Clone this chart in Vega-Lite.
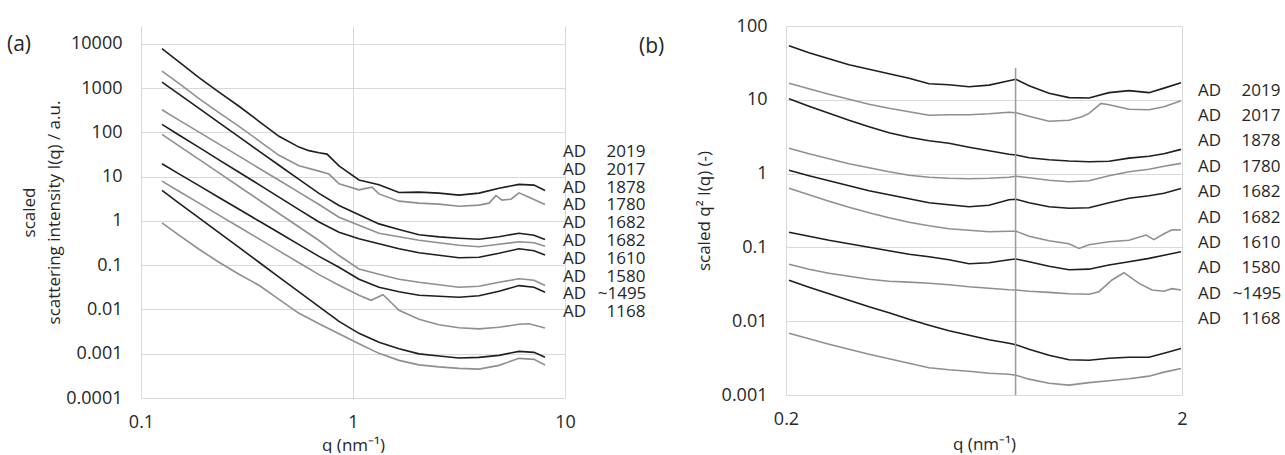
{
"$schema": "https://vega.github.io/schema/vega-lite/v6.json",
"background": "white",
"padding": {"left": 7, "top": 17, "right": 0, "bottom": 0},
"config": {
  "view": {"stroke": null},
  "font": "Open Sans",
  "axis": {"grid": true, "gridColor": "#d9d9d9", "gridWidth": 1, "domain": false, "ticks": false, "tickSize": 0, "labelFlush": false,
    "labelFont": "Open Sans", "labelFontSize": 18, "labelColor": "#262626",
    "titleFont": "Open Sans", "titleFontSize": 17, "titleFontWeight": "normal", "titleColor": "#262626"},
  "legend": {"labelFont": "Open Sans", "labelFontSize": 17, "labelColor": "#262626"}
},
"datasets": {
"a": [
{"s":"2019","q":0.1256,"I":7830},{"s":"2019","q":0.151,"I":3950},{"s":"2019","q":0.1878,"I":1746},{"s":"2019","q":0.2332,"I":820},{"s":"2019","q":0.29,"I":392},{"s":"2019","q":0.3602,"I":179},{"s":"2019","q":0.4476,"I":82},{"s":"2019","q":0.5563,"I":46.7},{"s":"2019","q":0.6199,"I":38.9},{"s":"2019","q":0.6913,"I":34.9},{"s":"2019","q":0.7541,"I":32.5},{"s":"2019","q":0.859,"I":17.6},{"s":"2019","q":1.067,"I":8.47},{"s":"2019","q":1.326,"I":6.56},{"s":"2019","q":1.648,"I":4.41},{"s":"2019","q":2.048,"I":4.48},{"s":"2019","q":2.545,"I":4.26},{"s":"2019","q":3.162,"I":3.84},{"s":"2019","q":3.929,"I":4.26},{"s":"2019","q":4.884,"I":5.52},{"s":"2019","q":6.067,"I":6.73},{"s":"2019","q":7.142,"I":6.46},{"s":"2019","q":8.05,"I":4.9},
{"s":"2017","q":0.1256,"I":2449},{"s":"2017","q":0.151,"I":1291},{"s":"2017","q":0.1878,"I":585},{"s":"2017","q":0.2332,"I":282},{"s":"2017","q":0.29,"I":138},{"s":"2017","q":0.3602,"I":64.9},{"s":"2017","q":0.4476,"I":30.5},{"s":"2017","q":0.5563,"I":17.8},{"s":"2017","q":0.6913,"I":13.4},{"s":"2017","q":0.77,"I":11.5},{"s":"2017","q":0.859,"I":6.91},{"s":"2017","q":1.067,"I":5.05},{"s":"2017","q":1.229,"I":5.82},{"s":"2017","q":1.326,"I":4.1},{"s":"2017","q":1.648,"I":2.81},{"s":"2017","q":2.048,"I":2.53},{"s":"2017","q":2.545,"I":2.4},{"s":"2017","q":3.162,"I":2.16},{"s":"2017","q":3.929,"I":2.28},{"s":"2017","q":4.38,"I":2.53},{"s":"2017","q":4.725,"I":3.74},{"s":"2017","q":5.045,"I":2.96},{"s":"2017","q":5.563,"I":3.11},{"s":"2017","q":6.067,"I":4.32},{"s":"2017","q":6.765,"I":3.45},{"s":"2017","q":8.05,"I":2.36},
{"s":"1878","q":0.1256,"I":1381},{"s":"1878","q":0.151,"I":739},{"s":"1878","q":0.1878,"I":351},{"s":"1878","q":0.2332,"I":167.5},{"s":"1878","q":0.29,"I":79.9},{"s":"1878","q":0.3602,"I":38.1},{"s":"1878","q":0.4476,"I":18.2},{"s":"1878","q":0.5563,"I":8.69},{"s":"1878","q":0.6913,"I":4.21},{"s":"1878","q":0.859,"I":2.24},{"s":"1878","q":1.067,"I":1.388},{"s":"1878","q":1.326,"I":0.86},{"s":"1878","q":1.648,"I":0.642},{"s":"1878","q":2.048,"I":0.49},{"s":"1878","q":2.545,"I":0.437},{"s":"1878","q":3.162,"I":0.408},{"s":"1878","q":3.929,"I":0.388},{"s":"1878","q":4.884,"I":0.441},{"s":"1878","q":6.067,"I":0.53},{"s":"1878","q":7.142,"I":0.477},{"s":"1878","q":8.05,"I":0.381},
{"s":"1780","q":0.1256,"I":326},{"s":"1780","q":0.151,"I":190.7},{"s":"1780","q":0.1878,"I":102.1},{"s":"1780","q":0.2332,"I":54.6},{"s":"1780","q":0.29,"I":29.2},{"s":"1780","q":0.3602,"I":15.57},{"s":"1780","q":0.4476,"I":8.33},{"s":"1780","q":0.5563,"I":4.44},{"s":"1780","q":0.6913,"I":2.36},{"s":"1780","q":0.859,"I":1.219},{"s":"1780","q":1.067,"I":0.803},{"s":"1780","q":1.326,"I":0.53},{"s":"1780","q":1.648,"I":0.441},{"s":"1780","q":2.048,"I":0.368},{"s":"1780","q":2.545,"I":0.323},{"s":"1780","q":3.162,"I":0.2835},{"s":"1780","q":3.929,"I":0.262},{"s":"1780","q":4.884,"I":0.2986},{"s":"1780","q":6.067,"I":0.34},{"s":"1780","q":7.142,"I":0.323},{"s":"1780","q":8.05,"I":0.269},
{"s":"1682a","q":0.1256,"I":152.5},{"s":"1682a","q":0.151,"I":87.8},{"s":"1682a","q":0.1878,"I":46},{"s":"1682a","q":0.2332,"I":24.1},{"s":"1682a","q":0.29,"I":12.64},{"s":"1682a","q":0.3602,"I":6.63},{"s":"1682a","q":0.4476,"I":3.455},{"s":"1682a","q":0.5563,"I":1.811},{"s":"1682a","q":0.6913,"I":0.949},{"s":"1682a","q":0.859,"I":0.558},{"s":"1682a","q":1.067,"I":0.398},{"s":"1682a","q":1.326,"I":0.3065},{"s":"1682a","q":1.648,"I":0.236},{"s":"1682a","q":2.048,"I":0.1918},{"s":"1682a","q":2.545,"I":0.1684},{"s":"1682a","q":3.162,"I":0.1478},{"s":"1682a","q":3.929,"I":0.1517},{"s":"1682a","q":4.884,"I":0.1868},{"s":"1682a","q":6.067,"I":0.236},{"s":"1682a","q":7.142,"I":0.2129},{"s":"1682a","q":8.05,"I":0.171},
{"s":"1682b","q":0.1256,"I":90.6},{"s":"1682b","q":0.151,"I":49.8},{"s":"1682b","q":0.1878,"I":24.6},{"s":"1682b","q":0.2332,"I":12.19},{"s":"1682b","q":0.29,"I":6.03},{"s":"1682b","q":0.3602,"I":2.987},{"s":"1682b","q":0.4476,"I":1.478},{"s":"1682b","q":0.5563,"I":0.732},{"s":"1682b","q":0.6913,"I":0.362},{"s":"1682b","q":0.859,"I":0.1658},{"s":"1682b","q":1.067,"I":0.0825},{"s":"1682b","q":1.326,"I":0.0626},{"s":"1682b","q":1.648,"I":0.0482},{"s":"1682b","q":2.048,"I":0.0412},{"s":"1682b","q":2.545,"I":0.0362},{"s":"1682b","q":3.162,"I":0.0318},{"s":"1682b","q":3.929,"I":0.0335},{"s":"1682b","q":4.884,"I":0.0412},{"s":"1682b","q":6.067,"I":0.0495},{"s":"1682b","q":7.142,"I":0.0458},{"s":"1682b","q":8.05,"I":0.0347},
{"s":"1610","q":0.1256,"I":19.6},{"s":"1610","q":0.151,"I":11.63},{"s":"1610","q":0.1878,"I":6.29},{"s":"1610","q":0.2332,"I":3.4},{"s":"1610","q":0.29,"I":1.839},{"s":"1610","q":0.3602,"I":1},{"s":"1610","q":0.4476,"I":0.541},{"s":"1610","q":0.5563,"I":0.2924},{"s":"1610","q":0.6913,"I":0.159},{"s":"1610","q":0.859,"I":0.0901},{"s":"1610","q":1.067,"I":0.0482},{"s":"1610","q":1.326,"I":0.0318},{"s":"1610","q":1.648,"I":0.02515},{"s":"1610","q":2.048,"I":0.02097},{"s":"1610","q":2.545,"I":0.01989},{"s":"1610","q":3.162,"I":0.01888},{"s":"1610","q":3.929,"I":0.02042},{"s":"1610","q":4.884,"I":0.0258},{"s":"1610","q":6.067,"I":0.0347},{"s":"1610","q":7.142,"I":0.0318},{"s":"1610","q":8.05,"I":0.0245},
{"s":"1580","q":0.1256,"I":7.95},{"s":"1580","q":0.151,"I":4.7},{"s":"1580","q":0.1878,"I":2.527},{"s":"1580","q":0.2332,"I":1.36},{"s":"1580","q":0.29,"I":0.732},{"s":"1580","q":0.3602,"I":0.3936},{"s":"1580","q":0.4476,"I":0.2117},{"s":"1580","q":0.5563,"I":0.1139},{"s":"1580","q":0.6913,"I":0.0613},{"s":"1580","q":0.859,"I":0.0353},{"s":"1580","q":1.067,"I":0.02097},{"s":"1580","q":1.216,"I":0.01615},{"s":"1580","q":1.385,"I":0.0215},{"s":"1580","q":1.561,"I":0.01245},{"s":"1580","q":1.648,"I":0.00959},{"s":"1580","q":2.048,"I":0.006},{"s":"1580","q":2.545,"I":0.00451},{"s":"1580","q":3.162,"I":0.003855},{"s":"1580","q":3.929,"I":0.003658},{"s":"1580","q":4.884,"I":0.003957},{"s":"1580","q":6.067,"I":0.004626},{"s":"1580","q":6.765,"I":0.004746},{"s":"1580","q":8.05,"I":0.003814},
{"s":"~1495","q":0.1256,"I":4.9},{"s":"~1495","q":0.151,"I":2.541},{"s":"~1495","q":0.1878,"I":1.181},{"s":"~1495","q":0.2332,"I":0.5464},{"s":"~1495","q":0.29,"I":0.2528},{"s":"~1495","q":0.3602,"I":0.1169},{"s":"~1495","q":0.4476,"I":0.0541},{"s":"~1495","q":0.5563,"I":0.02515},{"s":"~1495","q":0.6913,"I":0.01163},{"s":"~1495","q":0.859,"I":0.0054},{"s":"~1495","q":1.067,"I":0.002893},{"s":"~1495","q":1.326,"I":0.001811},{"s":"~1495","q":1.648,"I":0.001297},{"s":"~1495","q":2.048,"I":0.000995},{"s":"~1495","q":2.545,"I":0.000887},{"s":"~1495","q":3.162,"I":0.000799},{"s":"~1495","q":3.929,"I":0.000829},{"s":"~1495","q":4.884,"I":0.00092},{"s":"~1495","q":6.067,"I":0.001133},{"s":"~1495","q":7.142,"I":0.001076},{"s":"~1495","q":8.05,"I":0.000829},
{"s":"1168","q":0.1256,"I":0.906},{"s":"1168","q":0.151,"I":0.477},{"s":"1168","q":0.1878,"I":0.23},{"s":"1168","q":0.2332,"I":0.1169},{"s":"1168","q":0.29,"I":0.0626},{"s":"1168","q":0.3602,"I":0.0353},{"s":"1168","q":0.4476,"I":0.017},{"s":"1168","q":0.5563,"I":0.0082},{"s":"1168","q":0.6913,"I":0.004746},{"s":"1168","q":0.859,"I":0.002819},{"s":"1168","q":1.067,"I":0.001675},{"s":"1168","q":1.326,"I":0.001021},{"s":"1168","q":1.648,"I":0.000709},{"s":"1168","q":2.048,"I":0.000561},{"s":"1168","q":2.545,"I":0.000505},{"s":"1168","q":3.162,"I":0.000467},{"s":"1168","q":3.929,"I":0.00045},{"s":"1168","q":4.884,"I":0.000546},{"s":"1168","q":6.067,"I":0.000787},{"s":"1168","q":7.142,"I":0.000747},{"s":"1168","q":8.05,"I":0.000555}
],
"b": [
{"s":"2019","q":0.2035,"v":54.1},{"s":"2019","q":0.2286,"v":43.5},{"s":"2019","q":0.2568,"v":36.1},{"s":"2019","q":0.2885,"v":29.9},{"s":"2019","q":0.3241,"v":26},{"s":"2019","q":0.364,"v":22.6},{"s":"2019","q":0.409,"v":19.6},{"s":"2019","q":0.4594,"v":16.5},{"s":"2019","q":0.516,"v":16},{"s":"2019","q":0.5797,"v":15.05},{"s":"2019","q":0.6511,"v":15.8},{"s":"2019","q":0.7313,"v":18.1},{"s":"2019","q":0.7617,"v":19},{"s":"2019","q":0.8217,"v":15.5},{"s":"2019","q":0.923,"v":12.3},{"s":"2019","q":1.0368,"v":10.7},{"s":"2019","q":1.1646,"v":10.6},{"s":"2019","q":1.3082,"v":12.5},{"s":"2019","q":1.4695,"v":13.3},{"s":"2019","q":1.6508,"v":12.5},{"s":"2019","q":1.8012,"v":14.4},{"s":"2019","q":1.9884,"v":17},
{"s":"2017","q":0.2035,"v":16.8},{"s":"2017","q":0.2286,"v":14.1},{"s":"2017","q":0.2568,"v":11.9},{"s":"2017","q":0.2885,"v":10.2},{"s":"2017","q":0.3241,"v":8.72},{"s":"2017","q":0.364,"v":7.69},{"s":"2017","q":0.409,"v":6.9},{"s":"2017","q":0.4594,"v":6.18},{"s":"2017","q":0.516,"v":6.28},{"s":"2017","q":0.5797,"v":6.28},{"s":"2017","q":0.6511,"v":6.48},{"s":"2017","q":0.7313,"v":6.79},{"s":"2017","q":0.7617,"v":6.69},{"s":"2017","q":0.8217,"v":6},{"s":"2017","q":0.923,"v":5.13},{"s":"2017","q":1.0368,"v":5.29},{"s":"2017","q":1.118,"v":5.9},{"s":"2017","q":1.1646,"v":6.54},{"s":"2017","q":1.249,"v":8.94},{"s":"2017","q":1.3082,"v":8.58},{"s":"2017","q":1.4695,"v":7.46},{"s":"2017","q":1.6508,"v":7.34},{"s":"2017","q":1.8012,"v":8.06},{"s":"2017","q":1.9884,"v":9.72},
{"s":"1878","q":0.2035,"v":10.35},{"s":"1878","q":0.2286,"v":8.19},{"s":"1878","q":0.2568,"v":6.58},{"s":"1878","q":0.2885,"v":5.29},{"s":"1878","q":0.3241,"v":4.32},{"s":"1878","q":0.364,"v":3.58},{"s":"1878","q":0.409,"v":3.11},{"s":"1878","q":0.4594,"v":2.79},{"s":"1878","q":0.516,"v":2.58},{"s":"1878","q":0.5797,"v":2.28},{"s":"1878","q":0.6511,"v":2.04},{"s":"1878","q":0.7313,"v":1.83},{"s":"1878","q":0.7617,"v":1.79},{"s":"1878","q":0.8217,"v":1.64},{"s":"1878","q":0.923,"v":1.54},{"s":"1878","q":1.0368,"v":1.48},{"s":"1878","q":1.1646,"v":1.45},{"s":"1878","q":1.3082,"v":1.47},{"s":"1878","q":1.4695,"v":1.62},{"s":"1878","q":1.6508,"v":1.72},{"s":"1878","q":1.8012,"v":1.86},{"s":"1878","q":1.9884,"v":2.13},
{"s":"1780","q":0.2035,"v":2.21},{"s":"1780","q":0.2286,"v":1.86},{"s":"1780","q":0.2568,"v":1.59},{"s":"1780","q":0.2885,"v":1.36},{"s":"1780","q":0.3241,"v":1.2},{"s":"1780","q":0.364,"v":1.06},{"s":"1780","q":0.409,"v":0.951},{"s":"1780","q":0.4594,"v":0.894},{"s":"1780","q":0.516,"v":0.866},{"s":"1780","q":0.5797,"v":0.853},{"s":"1780","q":0.6511,"v":0.866},{"s":"1780","q":0.7313,"v":0.894},{"s":"1780","q":0.7617,"v":0.922},{"s":"1780","q":0.8217,"v":0.88},{"s":"1780","q":0.923,"v":0.814},{"s":"1780","q":1.0368,"v":0.777},{"s":"1780","q":1.1646,"v":0.801},{"s":"1780","q":1.3082,"v":0.937},{"s":"1780","q":1.4695,"v":1.06},{"s":"1780","q":1.6508,"v":1.147},{"s":"1780","q":1.8012,"v":1.26},{"s":"1780","q":1.9884,"v":1.375},
{"s":"1682a","q":0.2035,"v":1.11},{"s":"1682a","q":0.2286,"v":0.937},{"s":"1682a","q":0.2568,"v":0.801},{"s":"1682a","q":0.2885,"v":0.686},{"s":"1682a","q":0.3241,"v":0.586},{"s":"1682a","q":0.364,"v":0.518},{"s":"1682a","q":0.409,"v":0.457},{"s":"1682a","q":0.4594,"v":0.403},{"s":"1682a","q":0.516,"v":0.379},{"s":"1682a","q":0.5797,"v":0.356},{"s":"1682a","q":0.6511,"v":0.373},{"s":"1682a","q":0.7313,"v":0.443},{"s":"1682a","q":0.7617,"v":0.45},{"s":"1682a","q":0.8217,"v":0.403},{"s":"1682a","q":0.923,"v":0.356},{"s":"1682a","q":1.0368,"v":0.34},{"s":"1682a","q":1.1646,"v":0.345},{"s":"1682a","q":1.3082,"v":0.403},{"s":"1682a","q":1.4695,"v":0.464},{"s":"1682a","q":1.6508,"v":0.502},{"s":"1682a","q":1.8012,"v":0.543},{"s":"1682a","q":1.9884,"v":0.63},
{"s":"1682b","q":0.2035,"v":0.634},{"s":"1682b","q":0.2286,"v":0.518},{"s":"1682b","q":0.2568,"v":0.423},{"s":"1682b","q":0.2885,"v":0.35},{"s":"1682b","q":0.3241,"v":0.295},{"s":"1682b","q":0.364,"v":0.2527},{"s":"1682b","q":0.409,"v":0.2196},{"s":"1682b","q":0.4594,"v":0.1968},{"s":"1682b","q":0.516,"v":0.1792},{"s":"1682b","q":0.5797,"v":0.171},{"s":"1682b","q":0.6511,"v":0.1632},{"s":"1682b","q":0.7313,"v":0.1658},{"s":"1682b","q":0.7617,"v":0.1658},{"s":"1682b","q":0.8217,"v":0.1418},{"s":"1682b","q":0.923,"v":0.1232},{"s":"1682b","q":1.0368,"v":0.1122},{"s":"1682b","q":1.099,"v":0.0969},{"s":"1682b","q":1.1646,"v":0.1088},{"s":"1682b","q":1.3082,"v":0.1195},{"s":"1682b","q":1.4695,"v":0.1252},{"s":"1682b","q":1.622,"v":0.1472},{"s":"1682b","q":1.699,"v":0.1272},{"s":"1682b","q":1.8012,"v":0.1533},{"s":"1682b","q":1.887,"v":0.1738},{"s":"1682b","q":1.9884,"v":0.1721},
{"s":"1610","q":0.2035,"v":0.1607},{"s":"1610","q":0.2286,"v":0.1418},{"s":"1610","q":0.2568,"v":0.1252},{"s":"1610","q":0.2885,"v":0.1122},{"s":"1610","q":0.3241,"v":0.1006},{"s":"1610","q":0.364,"v":0.0902},{"s":"1610","q":0.409,"v":0.0809},{"s":"1610","q":0.4594,"v":0.0748},{"s":"1610","q":0.516,"v":0.0681},{"s":"1610","q":0.5797,"v":0.0601},{"s":"1610","q":0.6511,"v":0.062},{"s":"1610","q":0.7313,"v":0.0681},{"s":"1610","q":0.7617,"v":0.0696},{"s":"1610","q":0.8217,"v":0.064},{"s":"1610","q":0.923,"v":0.0556},{"s":"1610","q":1.0368,"v":0.0499},{"s":"1610","q":1.1646,"v":0.0507},{"s":"1610","q":1.3082,"v":0.0577},{"s":"1610","q":1.4695,"v":0.064},{"s":"1610","q":1.6508,"v":0.071},{"s":"1610","q":1.8012,"v":0.0784},{"s":"1610","q":1.9884,"v":0.0874},
{"s":"1580","q":0.2035,"v":0.0592},{"s":"1580","q":0.2286,"v":0.0507},{"s":"1580","q":0.2568,"v":0.0447},{"s":"1580","q":0.2885,"v":0.0407},{"s":"1580","q":0.3241,"v":0.0371},{"s":"1580","q":0.364,"v":0.0348},{"s":"1580","q":0.409,"v":0.0338},{"s":"1580","q":0.4594,"v":0.0327},{"s":"1580","q":0.516,"v":0.0312},{"s":"1580","q":0.5797,"v":0.0293},{"s":"1580","q":0.6511,"v":0.028},{"s":"1580","q":0.7313,"v":0.0267},{"s":"1580","q":0.7617,"v":0.0265},{"s":"1580","q":0.8217,"v":0.0255},{"s":"1580","q":0.923,"v":0.0246},{"s":"1580","q":1.0368,"v":0.0236},{"s":"1580","q":1.1646,"v":0.0232},{"s":"1580","q":1.234,"v":0.0251},{"s":"1580","q":1.331,"v":0.0362},{"s":"1580","q":1.427,"v":0.0454},{"s":"1580","q":1.558,"v":0.0325},{"s":"1580","q":1.68,"v":0.0265},{"s":"1580","q":1.8012,"v":0.0255},{"s":"1580","q":1.887,"v":0.0276},{"s":"1580","q":1.9884,"v":0.0265},
{"s":"~1495","q":0.2035,"v":0.0359},{"s":"~1495","q":0.2286,"v":0.0289},{"s":"~1495","q":0.2568,"v":0.0236},{"s":"~1495","q":0.2885,"v":0.01926},{"s":"~1495","q":0.3241,"v":0.01572},{"s":"~1495","q":0.364,"v":0.01304},{"s":"~1495","q":0.409,"v":0.01064},{"s":"~1495","q":0.4594,"v":0.00883},{"s":"~1495","q":0.516,"v":0.00743},{"s":"~1495","q":0.5797,"v":0.00646},{"s":"~1495","q":0.6511,"v":0.00561},{"s":"~1495","q":0.7313,"v":0.00503},{"s":"~1495","q":0.7617,"v":0.0048},{"s":"~1495","q":0.8217,"v":0.00417},{"s":"~1495","q":0.923,"v":0.00346},{"s":"~1495","q":1.0368,"v":0.00301},{"s":"~1495","q":1.1646,"v":0.00296},{"s":"~1495","q":1.3082,"v":0.00315},{"s":"~1495","q":1.4695,"v":0.00325},{"s":"~1495","q":1.6508,"v":0.00325},{"s":"~1495","q":1.8012,"v":0.00368},{"s":"~1495","q":1.9884,"v":0.00428},
{"s":"1168","q":0.2035,"v":0.00688},{"s":"1168","q":0.2286,"v":0.00579},{"s":"1168","q":0.2568,"v":0.00488},{"s":"1168","q":0.2885,"v":0.00417},{"s":"1168","q":0.3241,"v":0.00357},{"s":"1168","q":0.364,"v":0.0031},{"s":"1168","q":0.409,"v":0.0027},{"s":"1168","q":0.4594,"v":0.00234},{"s":"1168","q":0.516,"v":0.0022},{"s":"1168","q":0.5797,"v":0.0021},{"s":"1168","q":0.6511,"v":0.00197},{"s":"1168","q":0.7313,"v":0.00191},{"s":"1168","q":0.7617,"v":0.00185},{"s":"1168","q":0.8217,"v":0.00164},{"s":"1168","q":0.923,"v":0.00144},{"s":"1168","q":1.0368,"v":0.00136},{"s":"1168","q":1.1646,"v":0.00147},{"s":"1168","q":1.3082,"v":0.00156},{"s":"1168","q":1.4695,"v":0.00166},{"s":"1168","q":1.6508,"v":0.0018},{"s":"1168","q":1.8012,"v":0.00204},{"s":"1168","q":1.9884,"v":0.00229}
]
},
"spacing": 221,
"bounds": "flush",
"resolve": {"scale": {"color": "independent"}, "legend": {"color": "independent"}},
"hconcat": [
{
  "width": 424, "height": 372,
  "title": {"text": "(a)", "anchor": "start", "frame": "group", "dx": -134, "dy": 40, "offset": 0, "baseline": "middle", "fontSize": 21, "fontWeight": "normal", "font": "Open Sans", "color": "#262626"},
  "data": {"name": "a"},
  "mark": {"type": "line", "strokeWidth": 1.6},
  "encoding": {
    "x": {"field": "q", "type": "quantitative", "scale": {"type": "log", "domain": [0.1, 10], "nice": false},
      "axis": {"values": [0.1, 1, 10], "format": "~g", "title": "q (nm⁻¹)", "labelPadding": 15, "titlePadding": 6}},
    "y": {"field": "I", "type": "quantitative", "scale": {"type": "log", "domain": [0.0001, 25500], "nice": false},
      "axis": {"values": [0.0001, 0.001, 0.01, 0.1, 1, 10, 100, 1000, 10000], "format": "~g", "title": ["scaled", "scattering  intensity  I(q) / a.u."], "titleLineHeight": 25, "labelPadding": 19, "titlePadding": 2}},
    "color": {"field": "s", "type": "nominal",
      "scale": {"domain": ["2019","2017","1878","1780","1682a","1682b","1610","1580","~1495","1168"], "range": ["#1e1e1e","#8f8f8f","#1e1e1e","#8f8f8f","#1e1e1e","#8f8f8f","#1e1e1e","#8f8f8f","#1e1e1e","#8f8f8f"]},
      "legend": {"orient": "none", "legendX": 405, "legendY": 117.4, "title": null, "symbolSize": 0, "symbolStrokeWidth": 0, "symbolOpacity": 0, "labelOffset": 0, "rowPadding": -0.2, "padding": 0,
        "labelExpr": "'AD' + (datum.label == '~1495' ? '\u00a0\u00a0\u2009' : '\u00a0\u00a0\u00a0\u00a0\u2009') + (datum.label == '1682a' || datum.label == '1682b' ? '1682' : datum.label)"}}
  }
},
{
  "width": 396, "height": 369,
  "title": {"text": "(b)", "anchor": "start", "frame": "group", "dx": -147, "dy": 51, "offset": 0, "baseline": "middle", "fontSize": 21, "fontWeight": "normal", "font": "Open Sans", "color": "#262626"},
  "layer": [
    {
      "data": {"name": "b"},
      "mark": {"type": "line", "strokeWidth": 1.6},
      "encoding": {
        "x": {"field": "q", "type": "quantitative", "scale": {"type": "log", "domain": [0.2, 2], "nice": false},
          "axis": {"values": [0.2, 2], "format": "~g", "title": "q (nm⁻¹)", "labelPadding": 15, "titlePadding": 8}},
        "y": {"field": "v", "type": "quantitative", "scale": {"type": "log", "domain": [0.001, 100], "nice": false},
          "axis": {"values": [0.001, 0.01, 0.1, 1, 10, 100], "format": "~g", "title": "scaled q² I(q) (-)", "labelPadding": 19, "titlePadding": 8}},
        "color": {"field": "s", "type": "nominal",
          "scale": {"domain": ["2019","2017","1878","1780","1682a","1682b","1610","1580","~1495","1168"], "range": ["#1e1e1e","#8f8f8f","#1e1e1e","#8f8f8f","#1e1e1e","#8f8f8f","#1e1e1e","#8f8f8f","#1e1e1e","#8f8f8f"]},
          "legend": {"orient": "none", "legendX": 395, "legendY": 56, "title": null, "symbolSize": 0, "symbolStrokeWidth": 0, "symbolOpacity": 0, "labelOffset": 0, "rowPadding": 7.4, "padding": 0,
            "labelExpr": "'AD' + (datum.label == '~1495' ? '\u00a0\u00a0\u2009' : '\u00a0\u00a0\u00a0\u00a0\u2009') + (datum.label == '1682a' || datum.label == '1682b' ? '1682' : datum.label)"}}
      }
    },
    {
      "data": {"values": [{"q": 0.76, "lo": 0.001, "hi": 27}]},
      "mark": {"type": "rule", "color": "#9a9a9a", "strokeWidth": 1.5},
      "encoding": {
        "x": {"field": "q", "type": "quantitative"},
        "y": {"field": "lo", "type": "quantitative"},
        "y2": {"field": "hi"}
      }
    }
  ]
}
]
}
